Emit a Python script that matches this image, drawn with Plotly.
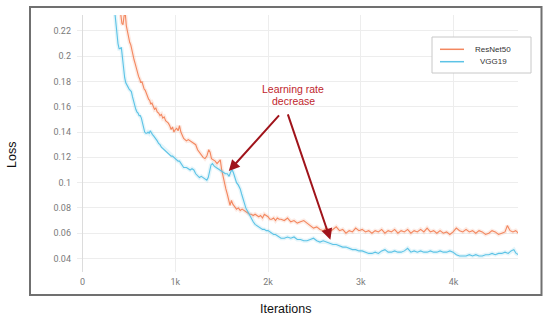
import plotly.graph_objects as go

# ---------------- data ----------------
resnet_iter = [400, 412, 424, 436, 448, 460, 472, 484, 496, 508, 520, 532, 544, 556, 568, 580, 592, 604,
               616, 628, 640, 652, 664, 676, 688, 700, 712, 724, 736, 748, 760, 775, 790, 805, 820, 835,
               850, 865, 880, 895, 910, 925, 940, 955, 970, 985, 1000, 1015, 1030, 1045, 1060, 1075, 1090,
               1105, 1120, 1140, 1160, 1180, 1200, 1220, 1240, 1260, 1280, 1300, 1320, 1340, 1360, 1375,
               1390, 1410, 1430, 1450, 1470, 1485, 1500, 1515, 1530, 1545, 1560, 1575, 1590, 1605, 1620,
               1640, 1660, 1680, 1700, 1720, 1740, 1760, 1780, 1800, 1820, 1840, 1860, 1880, 1900, 1920,
               1940, 1960, 1980, 2000, 2020, 2040, 2060, 2080, 2100, 2120, 2140,
               2175, 2210, 2245, 2280, 2315, 2350, 2385, 2420, 2455, 2490, 2525, 2560, 2595, 2630, 2665,
               2700, 2735, 2770, 2805, 2840, 2875, 2910, 2945, 2980, 3015, 3050, 3085, 3120, 3155, 3190,
               3225, 3260, 3295, 3330, 3365, 3400, 3435, 3470, 3505, 3540, 3575, 3610, 3645, 3680, 3715,
               3750, 3785, 3820, 3855, 3890, 3925, 3960, 3995, 4030, 4065, 4100, 4135, 4170, 4205, 4240,
               4275, 4310, 4345, 4380, 4415, 4450, 4485, 4520, 4555, 4580, 4610, 4640, 4670, 4700]
resnet_loss = [0.236, 0.233, 0.226, 0.225, 0.232, 0.234, 0.224, 0.219, 0.215, 0.211, 0.209, 0.204, 0.200,
               0.197, 0.194, 0.190, 0.188, 0.184, 0.182, 0.179, 0.180, 0.176, 0.174, 0.173, 0.170, 0.169,
               0.166, 0.165, 0.162, 0.163, 0.160, 0.158, 0.159, 0.156, 0.155, 0.153, 0.154, 0.151, 0.152,
               0.149, 0.148, 0.147, 0.145, 0.142, 0.144, 0.140, 0.142, 0.143, 0.141, 0.145, 0.140, 0.137,
               0.135, 0.134, 0.133, 0.134, 0.133, 0.132, 0.131, 0.130, 0.126, 0.124, 0.122, 0.120, 0.119,
               0.121, 0.126, 0.124, 0.119, 0.118, 0.117, 0.115, 0.117, 0.118, 0.110, 0.104, 0.099, 0.095,
               0.091, 0.086, 0.082, 0.086, 0.083, 0.081, 0.079, 0.080, 0.078, 0.079, 0.078, 0.077, 0.076,
               0.075, 0.075, 0.074, 0.075, 0.074, 0.073, 0.074, 0.072, 0.075, 0.074, 0.073, 0.071, 0.071,
               0.072, 0.070, 0.072, 0.071, 0.071,
               0.070, 0.072, 0.069, 0.070, 0.068, 0.069, 0.070, 0.068, 0.066, 0.064, 0.065, 0.063, 0.062,
               0.064, 0.061, 0.063, 0.065, 0.062, 0.063, 0.060, 0.062, 0.061, 0.064, 0.062, 0.063, 0.061,
               0.062, 0.060, 0.062, 0.061, 0.063, 0.060, 0.062, 0.061, 0.063, 0.060, 0.062, 0.061, 0.063,
               0.060, 0.062, 0.061, 0.063, 0.061, 0.064, 0.061, 0.062, 0.060, 0.062, 0.060, 0.061, 0.059,
               0.061, 0.064, 0.062, 0.061, 0.063, 0.061, 0.062, 0.060, 0.062, 0.061, 0.059, 0.060, 0.062,
               0.061, 0.059, 0.060, 0.061, 0.066, 0.062, 0.061, 0.062, 0.060]

vgg_iter = [346, 358, 370, 382, 394, 406, 418, 430, 442, 454, 466, 478, 490, 502, 514, 526, 538, 550, 562,
            574, 586, 598, 610, 622, 634, 646, 658, 670, 682, 694, 706, 718, 730, 742, 754, 766, 778, 790,
            805, 820, 835, 850, 865, 880, 895, 910, 925, 940, 955, 970, 985, 1000, 1015, 1030, 1045, 1060,
            1075, 1090, 1105, 1120, 1140, 1160, 1180, 1200, 1220, 1240, 1260, 1280, 1300, 1320, 1340, 1355,
            1370, 1385, 1400, 1420, 1440, 1460, 1480, 1500, 1520, 1540, 1560, 1580, 1600, 1615, 1630, 1645,
            1660, 1680, 1700, 1715, 1730, 1745, 1760, 1775, 1790, 1805, 1820, 1840, 1860, 1880, 1900, 1920,
            1940, 1960, 1980, 2000, 2020, 2040, 2060, 2080, 2100, 2120, 2140,
            2175, 2210, 2245, 2280, 2315, 2350, 2385, 2420, 2455, 2490, 2525, 2560, 2595, 2630, 2665,
            2700, 2735, 2770, 2805, 2840, 2875, 2910, 2945, 2980, 3015, 3050, 3085, 3120, 3155, 3190,
            3225, 3260, 3295, 3330, 3365, 3400, 3435, 3470, 3505, 3540, 3575, 3610, 3645, 3680, 3715,
            3750, 3785, 3820, 3855, 3890, 3925, 3960, 3995, 4030, 4065, 4100, 4135, 4170, 4205, 4240,
            4275, 4310, 4345, 4380, 4415, 4450, 4485, 4520, 4555, 4590, 4620, 4650, 4675, 4700]
vgg_loss = [0.236, 0.226, 0.218, 0.210, 0.206, 0.206, 0.207, 0.197, 0.190, 0.183, 0.179, 0.177, 0.175,
            0.174, 0.173, 0.172, 0.168, 0.164, 0.160, 0.158, 0.156, 0.155, 0.153, 0.153, 0.151, 0.147,
            0.143, 0.140, 0.139, 0.139, 0.140, 0.139, 0.141, 0.139, 0.138, 0.137, 0.136, 0.135, 0.133,
            0.131, 0.130, 0.128, 0.127, 0.126, 0.125, 0.124, 0.123, 0.122, 0.121, 0.121, 0.120, 0.119,
            0.118, 0.117, 0.117, 0.115, 0.113, 0.112, 0.112, 0.112, 0.111, 0.110, 0.111, 0.110, 0.107,
            0.105, 0.104, 0.105, 0.104, 0.103, 0.102, 0.104, 0.109, 0.114, 0.115, 0.113, 0.112, 0.111,
            0.110, 0.109, 0.108, 0.107, 0.107, 0.105, 0.109, 0.110, 0.107, 0.104, 0.100, 0.098, 0.095,
            0.091, 0.087, 0.083, 0.080, 0.078, 0.076, 0.073, 0.071, 0.069, 0.067, 0.066, 0.065, 0.064,
            0.063, 0.063, 0.062, 0.062, 0.061, 0.060, 0.059, 0.059, 0.058, 0.057, 0.056,
            0.056, 0.057, 0.056, 0.057, 0.055, 0.055, 0.054, 0.054, 0.055, 0.056, 0.054, 0.053, 0.054,
            0.053, 0.052, 0.051, 0.051, 0.050, 0.049, 0.049, 0.048, 0.047, 0.047, 0.046, 0.046, 0.045,
            0.044, 0.044, 0.045, 0.044, 0.046, 0.047, 0.045, 0.045, 0.046, 0.045, 0.045, 0.046, 0.048,
            0.045, 0.046, 0.045, 0.046, 0.045, 0.045, 0.046, 0.045, 0.045, 0.046, 0.045, 0.045, 0.046,
            0.045, 0.043, 0.042, 0.042, 0.042, 0.043, 0.042, 0.043, 0.042, 0.042, 0.043, 0.043, 0.044,
            0.043, 0.044, 0.044, 0.045, 0.044, 0.046, 0.047, 0.044, 0.043]

series_names = ["ResNet50", "VGG19"]
x_tick_vals = [0, 1000, 2000, 3000, 4000]
x_tick_text = ["0", "1k", "2k", "3k", "4k"]
y_tick_vals = [0.04, 0.06, 0.08, 0.1, 0.12, 0.14, 0.16, 0.18, 0.2, 0.22]
y_tick_text = ["0.04", "0.06", "0.08", "0.1", "0.12", "0.14", "0.16", "0.18", "0.2", "0.22"]
annotation_lines = ["Learning rate", "decrease"]
# arrow tips (iteration, loss) and arrow tails (iteration, loss)
arrow_tips = [(1577, 0.1091), (2672, 0.0548)]
arrow_tails = [(2133, 0.1544), (2208, 0.1552)]

# ---------------- styling ----------------
W, H = 550, 320
ML, MR, MT, MB = 77, 32, 15, 48
PW, PH = W - ML - MR, H - MT - MB
ORANGE = "#f3875f"
BLUE = "#5cc3e6"
colors = [ORANGE, BLUE]


def px_x(px):
    return (px - ML) / PW


def px_y(py):
    return (H - MB - py) / PH


fig = go.Figure()
for xs, ys, c, name in [(resnet_iter, resnet_loss, ORANGE, series_names[0]),
                        (vgg_iter, vgg_loss, BLUE, series_names[1])]:
    fig.add_trace(go.Scatter(x=xs, y=ys, mode="lines", line=dict(color=c, width=4),
                             opacity=0.16, showlegend=False, hoverinfo="skip"))
    fig.add_trace(go.Scatter(x=xs, y=ys, mode="lines", name=name,
                             line=dict(color=c, width=1.1), showlegend=False))

shapes = []
# outer frame
shapes.append(dict(type="rect", xref="paper", yref="paper",
                   x0=px_x(30), x1=px_x(541.5), y0=px_y(295), y1=px_y(7),
                   line=dict(color="#707070", width=2), fillcolor="rgba(0,0,0,0)", layer="above"))
# legend box
shapes.append(dict(type="rect", xref="paper", yref="paper",
                   x0=px_x(432), x1=px_x(531), y0=px_y(73), y1=px_y(37),
                   line=dict(color="#c8c8c8", width=1), fillcolor="white", layer="above"))
legend_rows = [49.3, 61.7]
annotations = []
for row, c, name in zip(legend_rows, colors, series_names):
    shapes.append(dict(type="line", xref="paper", yref="paper",
                       x0=px_x(440), x1=px_x(464), y0=px_y(row), y1=px_y(row),
                       line=dict(color=c, width=1.5), layer="above"))
    annotations.append(dict(text=name, xref="paper", yref="paper", x=px_x(493), y=px_y(row),
                            xanchor="center", yanchor="middle", showarrow=False,
                            font=dict(family="Liberation Sans, Arial", size=8, color="#333333")))

# learning-rate annotation text
for txt, py in zip(annotation_lines, [89, 100.5]):
    annotations.append(dict(text=txt, xref="paper", yref="paper", x=px_x(293), y=px_y(py),
                            xanchor="center", yanchor="middle", showarrow=False,
                            font=dict(family="Liberation Sans, Arial", size=10.5, color="#c0262d")))
# arrows
for (tx, ty), (sx, sy) in zip(arrow_tips, arrow_tails):
    annotations.append(dict(x=tx, y=ty, xref="x", yref="y", ax=sx, ay=sy, axref="x", ayref="y",
                            text="", showarrow=True, arrowhead=2, arrowsize=1.1, arrowwidth=2,
                            arrowcolor="#a0141b", standoff=0))

# axis titles
annotations.append(dict(text="Loss", xref="paper", yref="paper", x=px_x(12), y=px_y(155),
                        textangle=-90, xanchor="center", yanchor="middle", showarrow=False,
                        font=dict(family="Liberation Sans, Arial", size=12.5, color="#111111")))
annotations.append(dict(text="Iterations", xref="paper", yref="paper", x=px_x(285), y=px_y(309),
                        xanchor="center", yanchor="middle", showarrow=False,
                        font=dict(family="Liberation Sans, Arial", size=12.5, color="#111111")))

fig.update_layout(
    width=W, height=H, margin=dict(l=ML, r=MR, t=MT, b=MB),
    paper_bgcolor="white", plot_bgcolor="white",
    shapes=shapes, annotations=annotations, showlegend=False,
    xaxis=dict(range=[-60, 4695], tickvals=x_tick_vals, ticktext=x_tick_text,
               showgrid=True, gridcolor="#ededed", gridwidth=1,
               zeroline=True, zerolinecolor="#dcdcdc", zerolinewidth=1.2,
               showline=False, ticks="", ticklabelstandoff=3,
               tickfont=dict(family="Roboto", size=9, color="#7a7a7a")),
    yaxis=dict(range=[0.0293, 0.2326], tickvals=y_tick_vals, ticktext=y_tick_text,
               showgrid=True, gridcolor="#ededed", gridwidth=1,
               zeroline=False, showline=False, ticks="", ticklabelstandoff=5,
               tickfont=dict(family="Roboto", size=9, color="#7a7a7a")),
)

fig.write_html("out.html", config={"displayModeBar": False},
               post_script="document.body.style.margin='0px';document.body.style.padding='0px';")
